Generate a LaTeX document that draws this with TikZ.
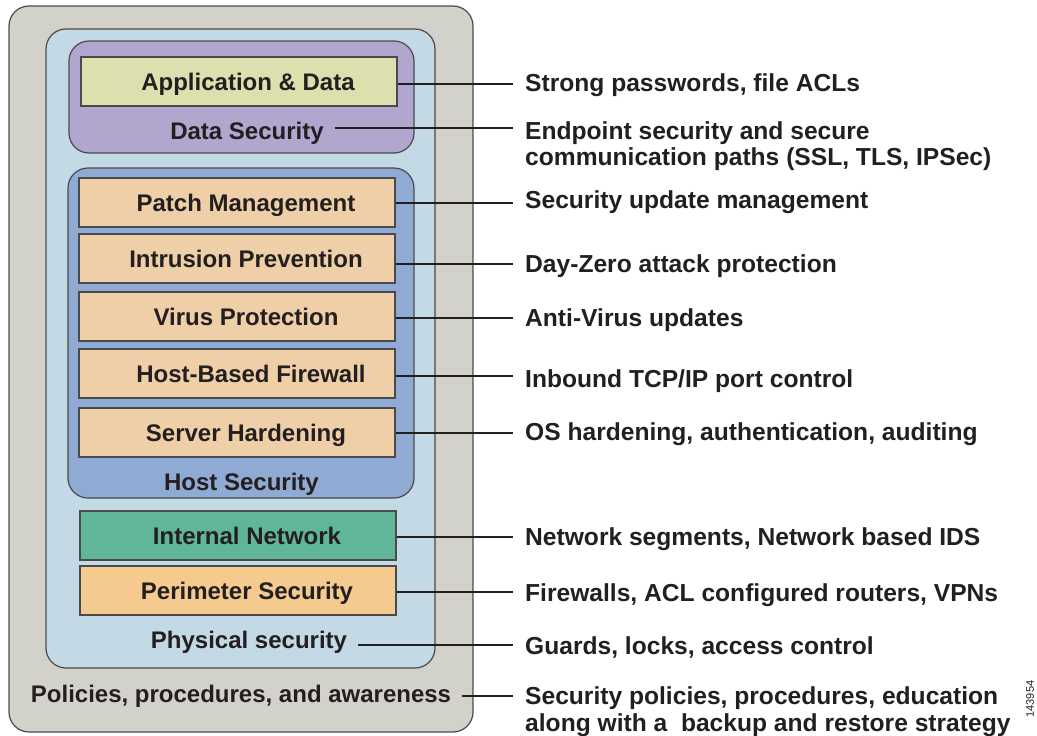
\documentclass[tikz,border=0pt]{standalone}
\usepackage{fontspec}
\setmainfont{Liberation Sans}
\definecolor{txt}{HTML}{231F20}
\definecolor{edge}{HTML}{4A4A4C}
\definecolor{outerg}{HTML}{D2D2CA}
\definecolor{lblue}{HTML}{C3DAE6}
\definecolor{purp}{HTML}{B0A6CE}
\definecolor{appc}{HTML}{DBE0AE}
\definecolor{hostc}{HTML}{8FAAD3}
\definecolor{orng}{HTML}{EFCFA8}
\definecolor{grn}{HTML}{5FB699}
\definecolor{peri}{HTML}{F5CA8F}
\tikzset{
  container/.style={draw=edge, line width=1.2pt, rounded corners=20pt, inner sep=0pt},
  layer/.style={draw=edge, line width=1.2pt, minimum width=316pt, minimum height=49pt, inner sep=0pt,
    font=\fontsize{24}{28}\selectfont\bfseries, text=txt, text height=17pt, text depth=0pt,
    execute at begin node={\hspace*{18pt}}},
  title/.style={font=\fontsize{24}{28}\selectfont\bfseries, text=txt, inner sep=0pt, inner xsep=11pt,
    text height=17pt, text depth=0pt},
  desc/.style={font=\fontsize{24.6}{27}\selectfont\bfseries, text=txt, inner sep=0pt, inner xsep=12pt,
    anchor=west, text height=17.6pt, text depth=0pt},
  desctwo/.style={font=\fontsize{24.6}{26.5}\selectfont\bfseries, text=txt, align=left, inner sep=0pt,
    inner xsep=12pt, anchor=north west},
  link/.style={draw=txt, line width=2pt}
}
\begin{document}
\begin{tikzpicture}[x=1pt,y=-1pt]
\useasboundingbox (0,0) rectangle (1037,736);
% containers
\node[container, fill=outerg, minimum width=464pt, minimum height=726pt] (outer) at (241,369) {};
\node[container, fill=lblue, minimum width=389pt, minimum height=639pt] (phys) at (240.5,348.5) {};
\node[container, fill=purp, minimum width=345pt, minimum height=112pt] (datasec) at (241.5,97) {};
\node[container, fill=hostc, minimum width=346pt, minimum height=330pt] (hostsec) at (241,333) {};
% layers
\node[layer, fill=appc] (app) at (239,81.5) {Application \& Data};
\node[layer, fill=orng] (patch) at (237,202.5) {Patch Management};
\node[layer, fill=orng] (intr) at (237,258.5) {Intrusion Prevention};
\node[layer, fill=orng] (virus) at (237,316.5) {Virus Protection};
\node[layer, fill=orng] (hbfw) at (237,373.5) {\hspace*{10pt}Host-Based Firewall};
\node[layer, fill=orng] (hard) at (237,432.5) {Server Hardening};
\node[layer, fill=grn] (inet) at (238,535.5) {Internal Network};
\node[layer, fill=peri] (perim) at (238,590.5) {Perimeter Security};
% titles
\node[title] (dstitle) at (247,131) {Data Security};
\node[title] (hstitle) at (241.5,482) {Host Security};
\node[title] (pstitle) at (249,639.5) {Physical security};
\node[title] (poltitle) at (241,693.5) {Policies, procedures, and awareness};
% descriptions
\node[desc] (d1) at (513,83) {Strong passwords, file ACLs};
\node[desctwo] (d2) at (513,121) {Endpoint security and secure\\communication paths (SSL, TLS, IPSec)};
\node[desc] (d3) at (513,200) {Security update management};
\node[desc] (d4) at (513,264) {Day-Zero attack protection};
\node[desc] (d5) at (513,318) {Anti-Virus updates};
\node[desc] (d6) at (513,379) {Inbound TCP/IP port control};
\node[desc] (d7) at (513,432) {OS hardening, authentication, auditing};
\node[desc] (d8) at (513,537) {Network segments, Network based IDS};
\node[desc] (d9) at (513,593) {Firewalls, ACL configured routers, VPNs};
\node[desc] (d10) at (513,646) {Guards, locks, access control};
\node[desctwo] (d11) at (513,686.5) {Security policies, procedures, education\\along with a \ backup and restore strategy};
% connectors
\draw[link] ([yshift=-2.5pt]app.east) -- ([yshift=-2.5pt]app.east -| d1.west);
\draw[link] ([yshift=3pt]dstitle.east) -- ([yshift=3pt]dstitle.east -| d2.west);
\draw[link] (patch.east) -- (patch.east -| d3.west);
\draw[link] ([yshift=-5.5pt]intr.east) -- ([yshift=-5.5pt]intr.east -| d4.west);
\draw[link] ([yshift=-1.5pt]virus.east) -- ([yshift=-1.5pt]virus.east -| d5.west);
\draw[link] ([yshift=-2.5pt]hbfw.east) -- ([yshift=-2.5pt]hbfw.east -| d6.west);
\draw[link] (hard.east) -- (hard.east -| d7.west);
\draw[link] ([yshift=-1.5pt]inet.east) -- ([yshift=-1.5pt]inet.east -| d8.west);
\draw[link] ([yshift=-1.5pt]perim.east) -- ([yshift=-1.5pt]perim.east -| d9.west);
\draw[link] ([yshift=-5pt]pstitle.east) -- ([yshift=-5pt]pstitle.east -| d10.west);
\draw[link] ([yshift=-2.5pt]poltitle.east) -- ([yshift=-2.5pt]poltitle.east -| d11.west);
% figure number
\node[rotate=90, font=\fontsize{11}{13}\selectfont, text=txt, inner sep=0pt] (fignum) at (1030,699) {143954};
\end{tikzpicture}
\end{document}
